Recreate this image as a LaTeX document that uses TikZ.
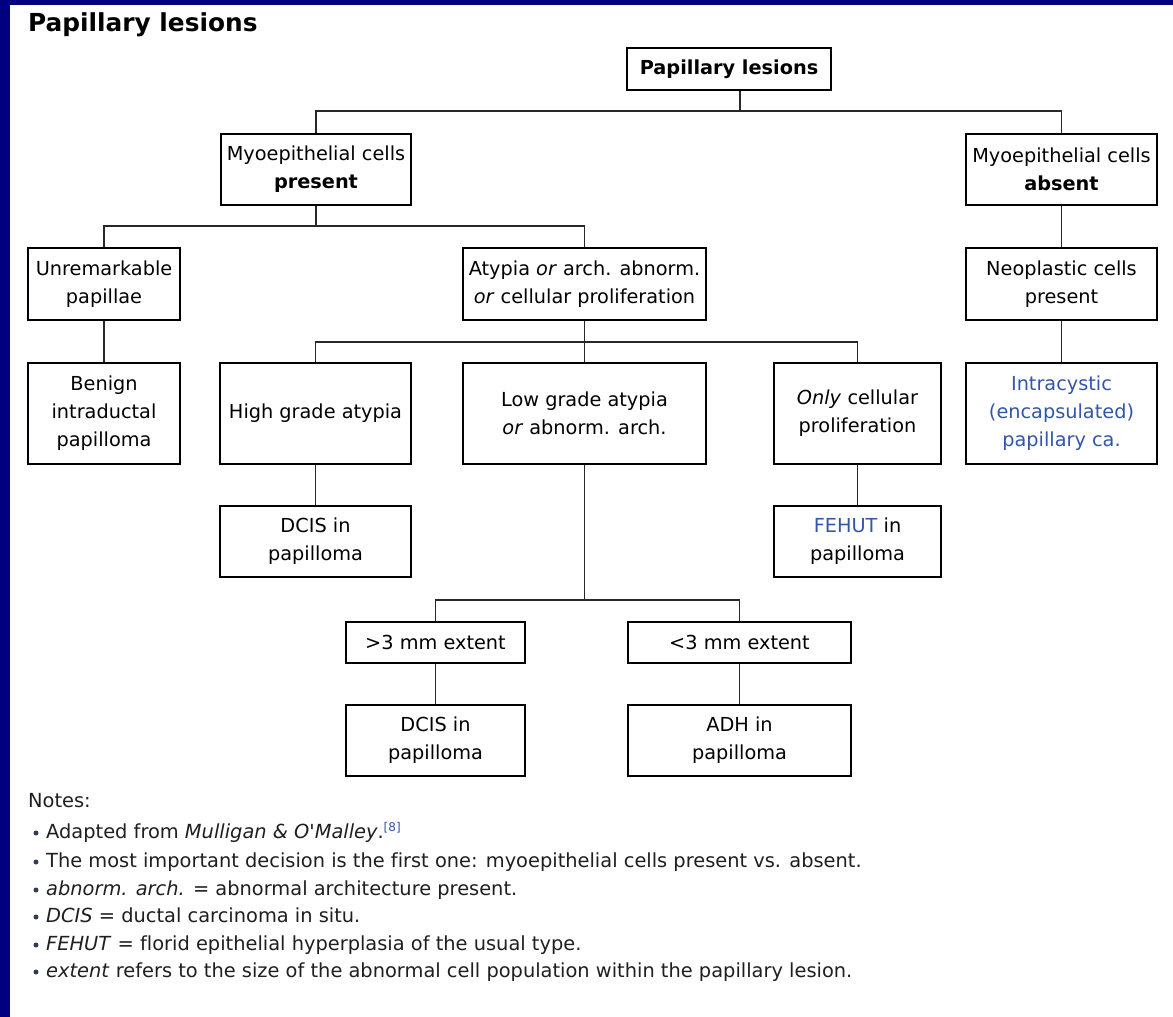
\documentclass[tikz,border=0pt]{standalone}
\usepackage{fontspec}
\setmainfont{DejaVu Sans}[Ligatures={TeX,CommonOff}]
\definecolor{navy}{RGB}{0,0,128}
\definecolor{wlink}{RGB}{51,85,170}
\definecolor{conncol}{RGB}{40,40,40}
\definecolor{bulcol}{RGB}{50,60,85}
\begin{document}
\begin{tikzpicture}[x=1pt,y=-1pt,
  box/.style={draw=black,line width=2.8pt,inner sep=0pt,align=center,
    font=\fontsize{19.3}{28}\selectfont},
  conn/.style={draw=conncol,line width=1.7pt},
  notetext/.style={anchor=base west,inner sep=0pt,font=\fontsize{19.4}{22}\selectfont,text=black!88},
  bul/.style={circle,fill=bulcol,inner sep=0pt,minimum size=5pt}]
\useasboundingbox (0,0) rectangle (1173,1017);
\fill[navy] (0,0) rectangle (1173,1017);
\fill[white] (10,5) rectangle (1173,1017);

\node[anchor=base west,inner sep=0pt,font=\fontsize{24.8}{28}\selectfont\bfseries] (title) at (28,31) {Papillary lesions};

% boxes
\node[box,minimum width=204,minimum height=42] (root) at (729,69) {\textbf{Papillary lesions}};
\node[box,minimum width=190,minimum height=71] (MP) at (316,169.5) {Myoepithelial cells\\\textbf{present}};
\node[box,minimum width=191,minimum height=71] (MA) at (1061.5,169.5) {Myoepithelial cells\\\textbf{absent}};
\node[box,minimum width=152,minimum height=72] (Unrem) at (104,284) {Unremarkable\\papillae};
\node[box,minimum width=243,minimum height=72] (Atyp) at (584.5,284) {Atypia \textit{or} arch. abnorm.\\\textit{or} cellular proliferation};
\node[box,minimum width=191,minimum height=72] (Neo) at (1061.5,284) {Neoplastic cells\\present};
\node[box,minimum width=152,minimum height=101] (Benign) at (104,413.5) {Benign\\intraductal\\papilloma};
\node[box,minimum width=191,minimum height=101] (High) at (315.5,413.5) {High grade atypia};
\node[box,minimum width=243,minimum height=101] (Low) at (584.5,413.5) {Low grade atypia\\\textit{or} abnorm. arch.};
\node[box,minimum width=167,minimum height=101] (Only) at (857.5,413.5) {\textit{Only} cellular\\proliferation};
\node[box,minimum width=191,minimum height=101,text=wlink] (Intra) at (1061.5,413.5) {Intracystic\\(encapsulated)\\papillary ca.};
\node[box,minimum width=191,minimum height=71] (DCISa) at (315.5,541.5) {DCIS in\\papilloma};
\node[box,minimum width=167,minimum height=71] (FEHUT) at (857.5,541.5) {\textcolor{wlink}{FEHUT} in\\papilloma};
\node[box,minimum width=179,minimum height=41] (GT) at (435.5,642.5) {>3 mm extent};
\node[box,minimum width=223,minimum height=41] (LT) at (739.5,642.5) {<3 mm extent};
\node[box,minimum width=179,minimum height=71] (DCISb) at (435.5,740.5) {DCIS in\\papilloma};
\node[box,minimum width=223,minimum height=71] (ADH) at (739.5,740.5) {ADH in\\papilloma};

% connectors
\coordinate (j1) at (740,111);
\draw[conn] (root.south -| j1) -- (j1);
\draw[conn] (MP.north) |- (j1) -| (MA.north);
\coordinate (j2) at (316,226);
\draw[conn] (MP.south) -- (j2);
\draw[conn] (Unrem.north) |- (j2) -| (Atyp.north);
\draw[conn] (MA.south) -- (Neo.north);
\coordinate (j3) at (584.5,342);
\draw[conn] (Atyp.south) -- (j3);
\draw[conn] (High.north) |- (j3) -| (Only.north);
\draw[conn] (j3) -- (Low.north);
\draw[conn] (Unrem.south) -- (Benign.north);
\draw[conn] (Neo.south) -- (Intra.north);
\draw[conn] (High.south) -- (DCISa.north);
\draw[conn] (Only.south) -- (FEHUT.north);
\coordinate (j4) at (584.5,600);
\draw[conn] (Low.south) -- (j4);
\draw[conn] (GT.north) |- (j4) -| (LT.north);
\draw[conn] (GT.south) -- (DCISb.north);
\draw[conn] (LT.south) -- (ADH.north);

% notes
\node[notetext] (notes) at (28,807) {Notes:};
\node[bul] (b1) at (36,833) {};
\node[notetext] (n1) at (46,838) {Adapted from \textit{Mulligan \& O\textquotesingle Malley}.\raisebox{7pt}{\fontsize{12}{13}\selectfont\textcolor{wlink}{[8]}}};
\node[bul] (b2) at (36,862) {};
\node[notetext] (n2) at (46,867) {The most important decision is the first one: myoepithelial cells present vs. absent.};
\node[bul] (b3) at (36,890) {};
\node[notetext] (n3) at (46,895) {\textit{abnorm. arch.} = abnormal architecture present.};
\node[bul] (b4) at (36,917) {};
\node[notetext] (n4) at (46,922) {\textit{DCIS} = ductal carcinoma in situ.};
\node[bul] (b5) at (36,945) {};
\node[notetext] (n5) at (46,950) {\textit{FEHUT} = florid epithelial hyperplasia of the usual type.};
\node[bul] (b6) at (36,972) {};
\node[notetext] (n6) at (46,977) {\textit{extent} refers to the size of the abnormal cell population within the papillary lesion.};
\end{tikzpicture}
\end{document}
